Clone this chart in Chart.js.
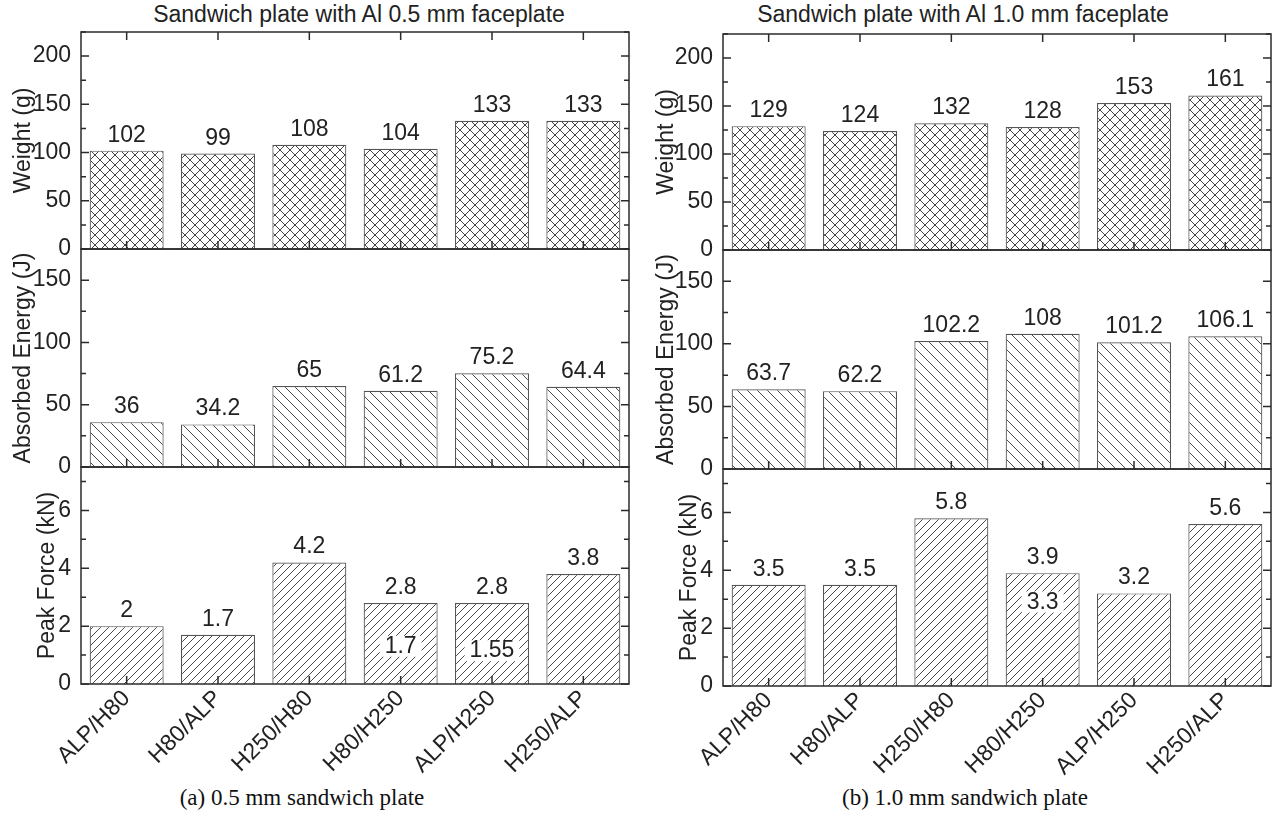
<!DOCTYPE html>
<html><head><meta charset="utf-8">
<script src="https://cdn.jsdelivr.net/npm/chart.js@4.4.1/dist/chart.umd.min.js"></script>
<style>
html,body{margin:0;padding:0;background:#fff;}
#wrap{position:relative;width:1275px;height:822px;overflow:hidden;background:#fff;}
canvas{position:absolute;}
.t{position:absolute;font-family:'Liberation Sans',Arial,sans-serif;font-size:23px;color:#222;white-space:nowrap;transform:translateX(-50%);line-height:1;}
.c{position:absolute;font-family:'Liberation Serif','Times New Roman',serif;font-size:23px;color:#111;white-space:nowrap;transform:translateX(-50%);line-height:1;}
</style></head><body>
<div id="wrap">
<div class="t" style="left:359px;top:3px">Sandwich plate with Al 0.5 mm faceplate</div>
<div class="t" style="left:963px;top:3px">Sandwich plate with Al 1.0 mm faceplate</div>
<div class="c" style="left:302px;top:786px">(a) 0.5 mm sandwich plate</div>
<div class="c" style="left:965px;top:786px">(b) 1.0 mm sandwich plate</div>
</div>
<script>
// ---- data ----
const categories = ['ALP/H80','H80/ALP','H250/H80','H80/H250','ALP/H250','H250/ALP'];
const weight05 = [102, 99, 108, 104, 133, 133];
const energy05 = [36, 34.2, 65, 61.2, 75.2, 64.4];
const peak05 = [2, 1.7, 4.2, 2.8, 2.8, 3.8];
const peakInner05 = [null, null, null, 1.7, 1.55, null];
const weight10 = [129, 124, 132, 128, 153, 161];
const energy10 = [63.7, 62.2, 102.2, 108, 101.2, 106.1];
const peak10 = [3.5, 3.5, 5.8, 3.9, 3.2, 5.6];
const peakInner10 = [null, null, null, 3.3, null, null];
// tick labels
const weightTicks = [0, 50, 100, 150, 200];
const energyTicks = [0, 50, 100, 150];
const peakTicks = [0, 2, 4, 6];
const weightTitle = 'Weight (g)';
const energyTitle = 'Absorbed Energy (J)';
const peakTitle = 'Peak Force (kN)';

const FS = 23;
Chart.defaults.font.family = "'Liberation Sans', Arial, sans-serif";
Chart.defaults.font.size = FS;
Chart.defaults.color = '#222';

const wrap = document.getElementById('wrap');
const FONT = FS + "px 'Liberation Sans', Arial, sans-serif";

function makeTile(kind, period, color, lw) {
  const c = document.createElement('canvas');
  c.width = period; c.height = period;
  const g = c.getContext('2d');
  g.fillStyle = '#fff'; g.fillRect(0, 0, period, period);
  g.strokeStyle = color; g.lineWidth = lw;
  g.beginPath();
  if (kind === 'back' || kind === 'cross') {
    for (const o of [-period, 0, period]) { g.moveTo(o, 0); g.lineTo(o + period, period); }
  }
  if (kind === 'fwd' || kind === 'cross') {
    for (const o of [-period, 0, period]) { g.moveTo(o, period); g.lineTo(o + period, 0); }
  }
  g.stroke();
  return c;
}
const tiles = {
  cross: makeTile('cross', 10, '#444', 1),
  back: makeTile('back', 10, '#4a4a4a', 1),
  fwd: makeTile('fwd', 8, '#4a4a4a', 1)
};

function makePanel(cfg) {
  const cTop = cfg.first ? 0 : cfg.areaTop - 27;
  const cBottom = cfg.last ? 822 : cfg.areaBottom + 27;
  const h = cBottom - cTop;
  const canvas = document.createElement('canvas');
  canvas.width = cfg.colWidth; canvas.height = h;
  canvas.style.left = cfg.colLeft + 'px'; canvas.style.top = cTop + 'px';
  canvas.style.width = cfg.colWidth + 'px'; canvas.style.height = h + 'px';
  wrap.appendChild(canvas);
  const padTop = cfg.areaTop - cTop;
  const padBottom = cfg.last ? 0 : cBottom - cfg.areaBottom;
  const xH = cfg.last ? (h - padTop - (cfg.areaBottom - cfg.areaTop)) : 0;
  const yW = cfg.axisX - cfg.colLeft - cfg.titleLeft;
  const padRight = cfg.colLeft + cfg.colWidth - cfg.axisRight;
  let pattern = null;

  const panelPlugin = {
    id: 'panelDeco',
    afterDatasetsDraw(chart) {
      const { ctx, chartArea: a, scales: { x, y } } = chart;
      const meta = chart.getDatasetMeta(0);
      ctx.save();
      ctx.font = FONT;
      ctx.fillStyle = '#222';
      ctx.textAlign = 'center';
      ctx.textBaseline = 'alphabetic';
      meta.data.forEach((el, i) => {
        ctx.fillText(String(cfg.values[i]), el.x, el.y - 9);
      });
      if (cfg.inner) {
        cfg.inner.forEach((v, i) => {
          if (v === null) return;
          const txt = String(v);
          const px = x.getPixelForValue(i);
          const py = y.getPixelForValue(v) + 11;
          const w = ctx.measureText(txt).width;
          ctx.fillStyle = '#fff';
          ctx.fillRect(px - w / 2 - 5, py - 10, w + 10, 21);
          ctx.fillStyle = '#222';
          ctx.textBaseline = 'middle';
          ctx.fillText(txt, px, py + 1);
        });
      }
      ctx.strokeStyle = '#2b2b2b';
      ctx.lineWidth = 1.5;
      ctx.beginPath();
      for (let v = 0; v <= cfg.max + 1e-9; v += cfg.minor) {
        const isMajor = cfg.ticks.some(t => Math.abs(t - v) < 1e-6);
        const len = isMajor ? 8 : 5;
        const py = y.getPixelForValue(v);
        ctx.moveTo(a.left, py); ctx.lineTo(a.left + len, py);
        ctx.moveTo(a.right, py); ctx.lineTo(a.right - len, py);
      }
      categories.forEach((c, i) => {
        const px = x.getPixelForValue(i);
        ctx.moveTo(px, a.bottom); ctx.lineTo(px, a.bottom - 8);
        if (cfg.first) { ctx.moveTo(px, a.top); ctx.lineTo(px, a.top + 8); }
      });
      ctx.stroke();
      ctx.strokeRect(a.left, a.top, a.right - a.left, a.bottom - a.top);
      ctx.restore();
    }
  };

  new Chart(canvas, {
    type: 'bar',
    data: {
      labels: categories,
      datasets: [{
        data: cfg.values,
        backgroundColor: (c) => {
          if (!pattern) pattern = c.chart.ctx.createPattern(tiles[cfg.hatch], 'repeat');
          return pattern;
        },
        borderColor: '#555',
        borderWidth: 1.2,
        categoryPercentage: 0.81,
        barPercentage: 1
      }]
    },
    options: {
      responsive: false,
      animation: false,
      devicePixelRatio: 1,
      layout: { padding: { top: padTop, bottom: padBottom, left: cfg.titleLeft, right: padRight } },
      plugins: { legend: { display: false }, tooltip: { enabled: false }, title: { display: false } },
      scales: {
        x: {
          display: !!cfg.last,
          grid: { display: false, drawTicks: false },
          border: { display: false },
          ticks: { minRotation: 45, maxRotation: 45, autoSkip: false, padding: 1, font: { size: FS }, color: '#222' },
          afterFit: (s) => { if (cfg.last) s.height = xH; }
        },
        y: {
          min: 0, max: cfg.max,
          grid: { display: false, drawTicks: false },
          border: { display: false },
          ticks: { padding: 10, autoSkip: false, font: { size: FS }, color: '#222' },
          afterBuildTicks: (s) => { s.ticks = cfg.ticks.map(v => ({ value: v })); },
          afterFit: (s) => { s.width = yW; },
          title: { display: true, text: cfg.title, font: { size: FS }, color: '#222', padding: { top: 0, bottom: 0 } }
        }
      }
    },
    plugins: [panelPlugin]
  });
}

const colA = { colLeft: 0, colWidth: 640, axisX: 81, axisRight: 629 };
const colB = { colLeft: 640, colWidth: 635, axisX: 723, axisRight: 1271 };

makePanel(Object.assign({}, colA, { first: true, areaTop: 32, areaBottom: 249, values: weight05, max: 225, ticks: weightTicks, minor: 25, title: weightTitle, hatch: 'cross', titleLeft: 10 }));
makePanel(Object.assign({}, colA, { areaTop: 249, areaBottom: 467, values: energy05, max: 175, ticks: energyTicks, minor: 25, title: energyTitle, hatch: 'back', titleLeft: 10 }));
makePanel(Object.assign({}, colA, { last: true, areaTop: 467, areaBottom: 684, values: peak05, inner: peakInner05, max: 7.5, ticks: peakTicks, minor: 1, title: peakTitle, hatch: 'fwd', titleLeft: 34 }));

makePanel(Object.assign({}, colB, { first: true, areaTop: 34, areaBottom: 250, values: weight10, max: 225, ticks: weightTicks, minor: 25, title: weightTitle, hatch: 'cross', titleLeft: 13 }));
makePanel(Object.assign({}, colB, { areaTop: 250, areaBottom: 469, values: energy10, max: 175, ticks: energyTicks, minor: 25, title: energyTitle, hatch: 'back', titleLeft: 13 }));
makePanel(Object.assign({}, colB, { last: true, areaTop: 469, areaBottom: 686, values: peak10, inner: peakInner10, max: 7.5, ticks: peakTicks, minor: 1, title: peakTitle, hatch: 'fwd', titleLeft: 36 }));
</script>
</body></html>
